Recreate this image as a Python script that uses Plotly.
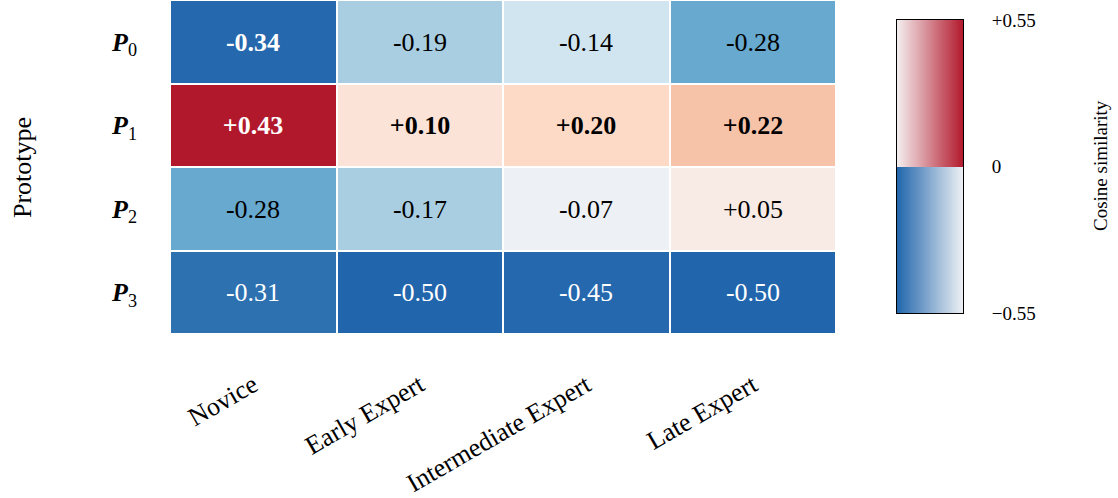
import numpy as np
import plotly.graph_objects as go

# Cosine similarity between prototypes and expertise stages
stages = ["Novice", "Early Expert", "Intermediate Expert", "Late Expert"]
prototype_labels = ["<b><i>P</i></b><sub>0</sub>", "<b><i>P</i></b><sub>1</sub>",
                    "<b><i>P</i></b><sub>2</sub>", "<b><i>P</i></b><sub>3</sub>"]
p0 = [-0.34, -0.19, -0.14, -0.28]
p1 = [0.43, 0.10, 0.20, 0.22]
p2 = [-0.28, -0.17, -0.07, 0.05]
p3 = [-0.31, -0.50, -0.45, -0.50]
bold_cells = [[1, 0, 0, 0],
              [1, 1, 1, 1],
              [0, 0, 0, 0],
              [0, 0, 0, 0]]
cbar_ticks = [-0.55, 0.0, 0.55]
cbar_ticktext = ["\u22120.55", "0", "+0.55"]

values = [p0, p1, p2, p3]
ZMIN, ZMAX = -0.55, 0.55

# diverging scale, nodes given in data units
nodes = [(-0.55, "#2166ac"), (-0.50, "#2166ac"), (-0.45, "#2568ad"), (-0.34, "#2568ad"),
         (-0.31, "#2d71b1"), (-0.28, "#67a9cf"), (-0.19, "#a9cee2"), (-0.17, "#a9cee2"),
         (-0.14, "#d1e5f0"), (-0.07, "#edf1f5"), (0.0, "#f7f4f3"), (0.05, "#f8ebe5"),
         (0.10, "#fbe3d7"), (0.20, "#fddac6"), (0.22, "#f7c3a8"), (0.43, "#b2182b"),
         (0.55, "#b2182b")]
colorscale = [[(v - ZMIN) / (ZMAX - ZMIN), c] for v, c in nodes]

SERIF = "Liberation Serif, Times New Roman, serif"

cell_text = []
for r, row in enumerate(values):
    trow = []
    for c, v in enumerate(row):
        s = f"{v:+.2f}"
        if bold_cells[r][c]:
            s = f"<b>{s}</b>"
        color = "white" if (v <= -0.30 or v >= 0.35) else "black"
        trow.append(f"<span style='color:{color}'>{s}</span>")
    cell_text.append(trow)

W, H = 1118, 498
fig = go.Figure()

fig.add_trace(go.Heatmap(
    z=values, x=list(range(len(stages))), y=list(range(len(values))),
    text=cell_text, texttemplate="%{text}",
    textfont=dict(family=SERIF, size=26),
    colorscale=colorscale, zmin=ZMIN, zmax=ZMAX, showscale=False,
    xgap=2, ygap=2, hoverinfo="skip",
))

# gradient key: upper half white->red, lower half blue->white
n = 132
cb_z = [list(np.linspace(-0.55, -0.02, n)), list(np.linspace(0.02, 0.55, n))]
fig.add_trace(go.Heatmap(
    z=cb_z, x=list(np.linspace(0, 1, n)), y=[-0.275, 0.275],
    xaxis="x2", yaxis="y2",
    colorscale=[[0, "#2166ac"], [0.5, "#f7f7f7"], [1, "#b2182b"]],
    zmin=-0.55, zmax=0.55, showscale=False, zsmooth=False, hoverinfo="skip",
))

fig.update_layout(
    width=W, height=H, margin=dict(l=0, r=0, t=0, b=0),
    paper_bgcolor="white", plot_bgcolor="white",
    font=dict(family=SERIF, color="black"),
    xaxis=dict(domain=[170 / W, 836 / W], range=[-0.5, 3.5], tickvals=list(range(4)),
               ticktext=stages, tickangle=-30, tickfont=dict(size=26),
               showgrid=False, zeroline=False, showline=False, ticks="",
               ticklabelstandoff=30, automargin=False),
    yaxis=dict(domain=[1 - 334 / H, 1], range=[3.5, -0.5], tickvals=list(range(4)),
               ticktext=prototype_labels, tickfont=dict(size=26),
               showgrid=False, zeroline=False, showline=False, ticks="",
               ticklabelstandoff=32, automargin=False),
    xaxis2=dict(domain=[897 / W, 963 / W], anchor="y2", range=[0, 1],
                showticklabels=False, ticks="", showgrid=False, zeroline=False,
                showline=True, mirror=True, linecolor="black", linewidth=1, automargin=False),
    yaxis2=dict(domain=[1 - 313 / H, 1 - 20 / H], anchor="x2", side="right",
                range=[-0.55, 0.55], tickvals=cbar_ticks, ticktext=cbar_ticktext,
                tickfont=dict(size=19), ticks="", ticklabelstandoff=24,
                showgrid=False, zeroline=False, showline=True, mirror=True,
                linecolor="black", linewidth=1, automargin=False),
    annotations=[
        dict(text="Prototype", xref="paper", yref="paper", x=22 / W, y=1 - 168 / H,
             textangle=-90, showarrow=False, font=dict(size=26),
             xanchor="center", yanchor="middle"),
        dict(text="Cosine similarity", xref="paper", yref="paper", x=1101 / W, y=1 - 166 / H,
             textangle=-90, showarrow=False, font=dict(size=19),
             xanchor="center", yanchor="middle"),
    ],
)

fig.write_html("out.html")
